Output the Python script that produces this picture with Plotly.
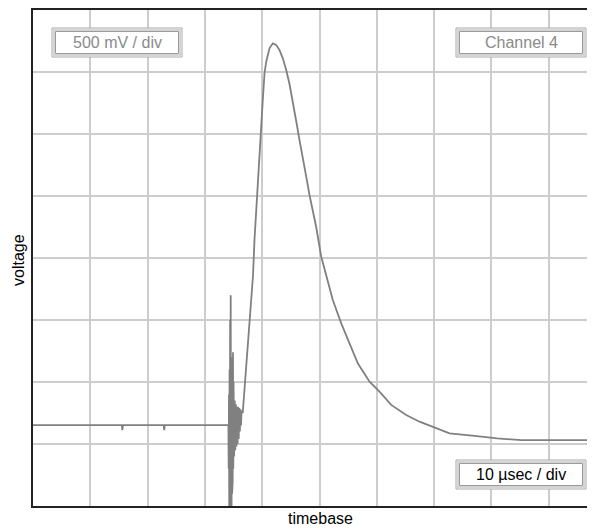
import plotly.graph_objects as go

# time in microseconds (10 usec / div), voltage in mV (500 mV / div)
time_us = [0.0, 11.5, 15.5, 15.6, 15.7, 22.8, 22.9, 23.0, 34.1,
           34.15, 34.2, 34.25, 34.3, 34.35, 34.4, 34.45, 34.5, 34.55, 34.6,
           34.65, 34.7, 34.75, 34.8, 34.85, 34.9, 34.95, 35.0, 35.1, 35.2,
           35.3, 35.4, 35.5, 35.6, 35.7, 35.8, 35.9, 36.0, 36.1, 36.2,
           36.3, 36.4, 36.6,
           36.9, 37.2, 37.8, 38.1, 38.4, 38.65, 38.95, 39.23, 39.53, 39.83,
           40.1, 40.4, 40.7, 41.27, 41.85, 42.44, 43.02, 43.6, 44.19, 44.76,
           45.34, 45.93, 46.5, 47.09, 47.68, 48.25, 48.83, 49.42, 50.3, 51.17,
           52.32, 53.79, 55.24, 56.68, 58.73, 60.47, 62.51, 65.13, 67.45, 70.37,
           72.69, 77.05, 81.0, 85.2, 97.9]
voltage_mv = [652, 652, 652, 612, 652, 652, 612, 652, 652,
              300, 900, -100, 1100, -200, 1500, -150, 1700, -100, 1400,
              0, 1200, 100, 1050, 200, 1240, 300, 1000, 400, 850,
              450, 820, 480, 800, 500, 800, 540, 790, 600, 780,
              650, 770, 750,
              935, 1123, 1476, 1637, 1863, 2145, 2387, 2656, 2898, 3059,
              3274, 3490, 3583, 3691, 3731, 3718, 3677, 3610, 3516, 3403,
              3266, 3105, 2952, 2790, 2656, 2508, 2387, 2250, 2010, 1849,
              1661, 1473, 1312, 1151, 1002, 922, 815, 734, 680, 627,
              586, 565, 545, 532, 532]

# page is offset by the default 8px body margin
OFF = 8
W, H = 595 - OFF, 529 - OFF
L, R, T, B = 33, 594, 10, 506   # plot area in page pixels


def px(x):
    return (x - L) / (R - L)


def py(y):
    return (B - y) / (B - T)


fig = go.Figure()
fig.add_trace(go.Scatter(x=time_us, y=voltage_mv, mode="lines",
                         line=dict(color="#808080", width=1.8),
                         hoverinfo="skip", showlegend=False))

FONT = "Liberation Sans, Arial, sans-serif"
shapes = []
annotations = []
boxes = [
    (52, 182, 28, 57, "500 mV / div", "#8a8a8a"),
    (456, 586, 28, 57, "Channel 4", "#8a8a8a"),
    (456, 586, 460, 489, "10 µsec / div", "#000000"),
]
for x0, x1, y0, y1, txt, col in boxes:
    shapes.append(dict(type="rect", xref="paper", yref="paper",
                       x0=px(x0), x1=px(x1), y0=py(y1), y1=py(y0),
                       line=dict(color="#a8a8a8", width=1), fillcolor="white", layer="above"))
    shapes.append(dict(type="rect", xref="paper", yref="paper",
                       x0=px(x0 + 2), x1=px(x1 - 2), y0=py(y1 - 2), y1=py(y0 + 2),
                       line=dict(color="#d4d4d4", width=2), layer="above"))
    shapes.append(dict(type="rect", xref="paper", yref="paper",
                       x0=px(x0 + 3.5), x1=px(x1 - 3.5), y0=py(y1 - 3.5), y1=py(y0 + 3.5),
                       line=dict(color="#9a9a9a", width=1), layer="above"))
    annotations.append(dict(xref="paper", yref="paper", x=px((x0 + x1) / 2), y=py((y0 + y1) / 2),
                            text=txt, showarrow=False, xanchor="center", yanchor="middle",
                            font=dict(family=FONT, size=16, color=col)))

annotations.append(dict(xref="paper", yref="paper", x=px(320), y=py(519),
                        text="timebase", showarrow=False, xanchor="center", yanchor="middle",
                        font=dict(family=FONT, size=16, color="#000")))
annotations.append(dict(xref="paper", yref="paper", x=px(18), y=py(260),
                        text="voltage", showarrow=False, xanchor="center", yanchor="middle",
                        textangle=-90,
                        font=dict(family=FONT, size=16, color="#000")))

fig.update_layout(
    width=W, height=H,
    margin=dict(l=L - OFF, r=595 - R, t=T - OFF, b=529 - B, pad=0),
    paper_bgcolor="white", plot_bgcolor="white",
    shapes=shapes, annotations=annotations,
    xaxis=dict(range=[0, 97.9], dtick=10, tick0=0, showticklabels=False, ticks="",
               showgrid=True, gridcolor="#cdcdcd", gridwidth=2, zeroline=False,
               showline=True, linecolor="#222", linewidth=2, mirror=True, automargin=False,
               fixedrange=True),
    yaxis=dict(range=[0, 4000], dtick=500, tick0=0, showticklabels=False, ticks="",
               showgrid=True, gridcolor="#cdcdcd", gridwidth=2, zeroline=False,
               showline=True, linecolor="#222", linewidth=2, mirror=False, automargin=False,
               fixedrange=True),
)
fig.write_html("out.html")
